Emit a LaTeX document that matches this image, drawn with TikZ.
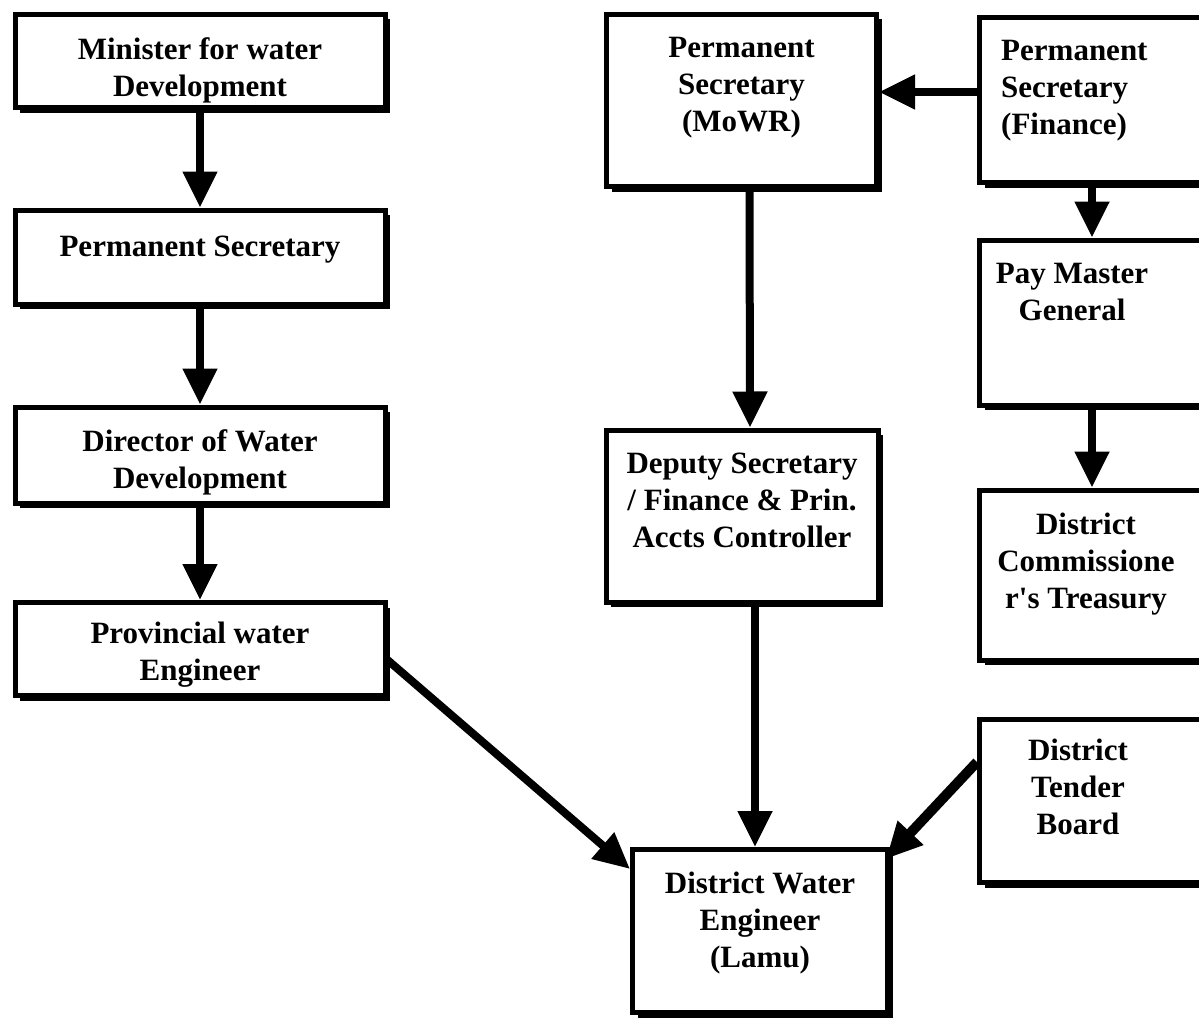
\documentclass[tikz,border=0pt]{standalone}
\usepackage{fontspec}
\setmainfont{Liberation Serif}
\usetikzlibrary{arrows.meta,shadows}

\begin{document}
\begin{tikzpicture}[x=1pt,y=-1pt,
    orgBox/.style={draw, fill=white, line width=5pt,
      drop shadow={shadow xshift=5pt, shadow yshift=-5pt, opacity=1, fill=black}},
    boxText/.style={anchor=north, yshift=-25pt, align=center, inner sep=0pt,
      font=\bfseries\fontsize{31}{37}\selectfont},
    flowArrow/.style={line width=8pt, -{Triangle[length=36pt,width=33pt]}}]
        \useasboundingbox (0,0) rectangle (1199,1025);
        \pgfmathsetmacro{\leftWidth}{370}
        \pgfmathsetmacro{\rightWidth}{241}
        % left column
        \node[orgBox, minimum width=\leftWidth, minimum height=93,
          label={[boxText]north:{Minister for water\\Development}}] (minister) at (200,61) {};
        \node[orgBox, minimum width=\leftWidth, minimum height=94,
          label={[boxText, yshift=-3pt]north:{Permanent Secretary}}] (permsec) at (200,257) {};
        \node[orgBox, minimum width=\leftWidth, minimum height=96,
          label={[boxText]north:{Director of Water\\Development}}] (director) at (200,455) {};
        \node[orgBox, minimum width=\leftWidth, minimum height=93,
          label={[boxText, yshift=3pt]north:{Provincial water\\Engineer}}] (provincial) at (200,649) {};
        % middle column
        \node[orgBox, minimum width=270, minimum height=172,
          label={[boxText]north:{Permanent\\Secretary\\(MoWR)}}] (mowr) at (741.5,100.5) {};
        \node[orgBox, minimum width=272, minimum height=172,
          label={[boxText]north:{Deputy Secretary\\/ Finance \& Prin.\\Accts Controller}}] (deputy) at (742,516) {};
        \node[orgBox, minimum width=255, minimum height=163,
          label={[boxText]north:{District Water\\Engineer\\(Lamu)}}] (dwe) at (760,931) {};
        % right column, cut at the page edge
        \node[orgBox, minimum width=\rightWidth, minimum height=165,
          label={[boxText, anchor=north west, align=left, xshift=24pt]north west:{Permanent\\Secretary\\(Finance)}}] (finance) at (1100,100) {};
        \node[orgBox, minimum width=\rightWidth, minimum height=165,
          label={[boxText, xshift=-28pt]north:{Pay Master\\General}}] (paymaster) at (1100,322.5) {};
        \node[orgBox, minimum width=\rightWidth, minimum height=170,
          label={[boxText, xshift=-14pt]north:{District\\Commissione\\r\textquotesingle s Treasury}}] (treasury) at (1100,575) {};
        \node[orgBox, minimum width=\rightWidth, minimum height=163,
          label={[boxText, xshift=-22pt, yshift=3pt]north:{District\\Tender\\Board}}] (tender) at (1100,801) {};

        \draw[flowArrow] (minister) -- (permsec);
        \draw[flowArrow] (permsec) -- (director);
        \draw[flowArrow] (director) -- (provincial);
        \draw[flowArrow] ([xshift=8pt]mowr.south) -- ([xshift=8pt]deputy.north);
        \draw[flowArrow] ([yshift=8pt]finance.west) -- ([yshift=8pt]finance.west -| mowr.east);
        \draw[flowArrow] ([xshift=-8pt]finance.south) -- ([xshift=-8pt]paymaster.north);
        \draw[flowArrow] ([xshift=-8pt]paymaster.south) -- ([xshift=-8pt]treasury.north);
        \draw[flowArrow] ([xshift=-5pt]deputy.south -| dwe.north) -- ([xshift=-5pt]dwe.north);
        \draw[flowArrow] ([yshift=-11pt]provincial.east) -- ([yshift=-22pt]dwe.north west);
        \draw[flowArrow, line width=10pt] ([yshift=39pt]tender.west) -- ([xshift=-4pt,yshift=-12pt]dwe.north east);
      \end{tikzpicture}
\end{document}
